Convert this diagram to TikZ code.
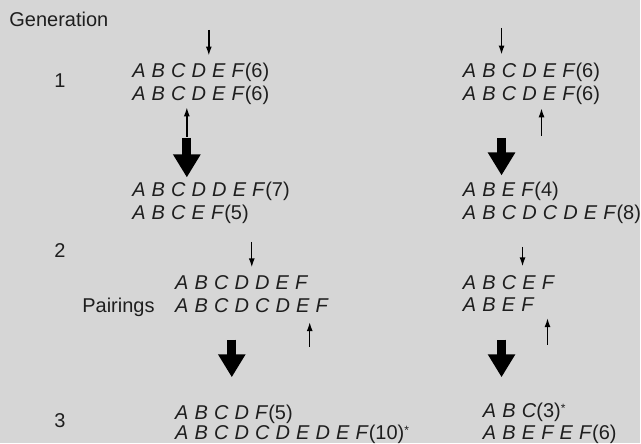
\documentclass[tikz,border=0pt]{standalone}
\usepackage{fontspec}
\setsansfont{Liberation Sans}
\newfontfamily\seqfont[WordSpace=1.1]{Liberation Sans}
\usetikzlibrary{arrows.meta}
\definecolor{paper}{RGB}{214, 214, 214}
\definecolor{ink}{RGB}{30, 30, 30}
\tikzset{
  % Chromosome strings (letters spaced wide, counts upright).
  seq/.style={
    anchor=base west, inner sep=0pt,
    text height=7pt, text depth=2pt,
    text=ink,
    font=\seqfont\fontsize{10}{12}\selectfont,
  },
  % Generation numbers and side labels.
  tag/.style={
    anchor=base, inner sep=0pt,
    text=ink,
    font=\sffamily\fontsize{10}{12}\selectfont,
  },
  % Arrows.
  thin-arrow/.style={
    -{Latex[length=4.5pt, width=3pt]},
    line width=0.7pt, draw=black,
  },
  fat-arrow/.style={
    -{Triangle[length=11.5pt, width=13pt]},
    line width=4.5pt, draw=black,
  },
}

\begin{document}
\begin{tikzpicture}[x=0.5pt, y=-0.5pt]

  % Sheet (fixes the bounding box too).
  \fill[paper] (0,0) rectangle (641,443);

  % Labels on the left.
  \node[tag, anchor=base west] (gen) at (9,27) {Generation};
  \node[tag] (g1) at (60,88)  {1};
  \node[tag] (g2) at (60,258) {2};
  \node[tag] (g3) at (60,428) {3};
  \node[tag, anchor=base west] (pairs) at (82,313) {Pairings};

  % Left lineage.
  \node[seq] (la1) at (132,78)  {\textit{A B C D E F}(6)};
  \node[seq] (la2) at (132,101) {\textit{A B C D E F}(6)};
  \node[seq] (lb1) at (132,197) {\textit{A B C D D E F}(7)};
  \node[seq] (lb2) at (132,220) {\textit{A B C E F}(5)};
  \node[seq] (lc1) at (175,290) {\textit{A B C D D E F}};
  \node[seq] (lc2) at (175,313) {\textit{A B C D C D E F}};
  \node[seq] (ld1) at (175,420) {\textit{A B C D F}(5)};
  \node[seq] (ld2) at (175,440) {\textit{A B C D C D E D E F}(10)\raisebox{2.5pt}{\fontsize{6}{6}\selectfont*}};

  % Right lineage.
  \node[seq] (ra1) at (463,78)  {\textit{A B C D E F}(6)};
  \node[seq] (ra2) at (463,101) {\textit{A B C D E F}(6)};
  \node[seq] (rb1) at (463,197) {\textit{A B E F}(4)};
  \node[seq] (rb2) at (463,220) {\textit{A B C D C D E F}(8)};
  \node[seq] (rc1) at (463,290) {\textit{A B C E F}};
  \node[seq] (rc2) at (463,312) {\textit{A B E F}};
  \node[seq] (rd1) at (483,418) {\textit{A B C}(3)\raisebox{2.5pt}{\fontsize{6}{6}\selectfont*}};
  \node[seq] (rd2) at (483,440) {\textit{A B E F E F}(6)};

  % Free ends of the arrows.
  \coordinate (la-cut) at (209,30);
  \coordinate (lb-cut) at (187,137);
  \coordinate (lc-cut) at (252,242);
  \coordinate (ld-cut) at (310,347);
  \coordinate (ra-cut) at (502,28);
  \coordinate (rb-cut) at (542,136);
  \coordinate (rc-cut) at (523,247);
  \coordinate (rd-cut) at (548,345);
  \coordinate (l-cross1) at (187,138);
  \coordinate (l-cross2) at (232,340);
  \coordinate (r-cross1) at (502,138);
  \coordinate (r-cross2) at (502,340);

  % Break points (thin arrows).
  \draw[thin-arrow, shorten >=4pt]   (la-cut) -- (la-cut |- la1.north);
  \draw[thin-arrow, shorten >=1pt]   (lb-cut) -- (lb-cut |- la2.south);
  \draw[thin-arrow, shorten >=4pt]   (lc-cut) -- (lc-cut |- lc1.north);
  \draw[thin-arrow, shorten >=2.5pt] (ld-cut) -- (ld-cut |- lc2.south);
  \draw[thin-arrow, shorten >=4.5pt] (ra-cut) -- (ra-cut |- ra1.north);
  \draw[thin-arrow, shorten >=1.5pt] (rb-cut) -- (rb-cut |- ra2.south);
  \draw[thin-arrow, shorten >=4.5pt] (rc-cut) -- (rc-cut |- rc1.north);
  \draw[thin-arrow, shorten >=1pt]   (rd-cut) -- (rd-cut |- rc2.south);

  % Crossing over (heavy arrows).
  \draw[fat-arrow, shorten >=2.5pt] (l-cross1) -- (l-cross1 |- lb1.north);
  \draw[fat-arrow, shorten >=14pt]  (l-cross2) -- (l-cross2 |- ld1.north);
  \draw[fat-arrow, shorten >=3.5pt] (r-cross1) -- (r-cross1 |- rb1.north);
  \draw[fat-arrow, shorten >=13pt]  (r-cross2) -- (r-cross2 |- rd1.north);

\end{tikzpicture}
\end{document}
